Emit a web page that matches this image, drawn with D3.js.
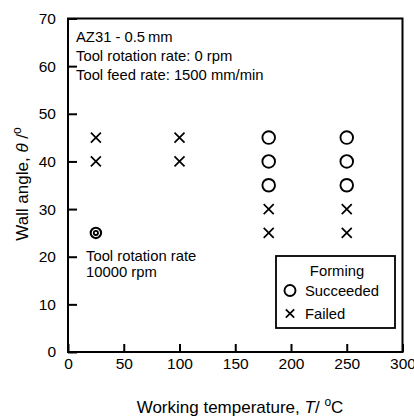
<!DOCTYPE html>
<html><head><meta charset="utf-8">
<script src="https://cdn.jsdelivr.net/npm/d3@7"></script>
<style>body{margin:0;background:#fff}svg{display:block}text{font-family:"Liberation Sans",Arial,sans-serif;fill:#000}</style>
</head><body>
<svg id="c" width="414" height="416"></svg>
<script>
const xTicks = [0, 50, 100, 150, 200, 250, 300];
const yTicks = [0, 10, 20, 30, 40, 50, 60, 70];
const succeededT = [180, 180, 180, 250, 250, 250];
const succeededAngle = [45, 40, 35, 45, 40, 35];
const failedT = [25, 25, 100, 100, 180, 180, 250, 250];
const failedAngle = [45, 40, 45, 40, 30, 25, 30, 25];
const specialT = [25];
const specialAngle = [25];

const svg = d3.select("#c");
const L = 68, R = 402.5, T = 18.5, B = 352;
const x = d3.scaleLinear().domain([0, 300]).range([L, R]);
const y = d3.scaleLinear().domain([0, 70]).range([B, T]);

// axes
const xAxis = d3.axisBottom(x).tickValues(xTicks).tickSizeInner(-8).tickSizeOuter(0).tickPadding(17);
const gx = svg.append("g").attr("transform", `translate(0,${B})`).call(xAxis);
const yAxis = d3.axisLeft(y).tickValues(yTicks).tickSizeInner(-9).tickSizeOuter(0).tickPadding(22);
const gy = svg.append("g").attr("transform", `translate(${L},0)`).call(yAxis);
[gx, gy].forEach(g => {
  g.select(".domain").remove();
  g.selectAll(".tick line").attr("stroke", "#000").attr("stroke-width", 2);
  g.selectAll(".tick text").style("font-size", "15.5px").attr("fill", "#000");
});
gx.selectAll(".tick text").attr("dy", "0.71em").attr("y", 6);
gy.selectAll(".tick text").attr("x", -12);

// frame
svg.append("rect").attr("x", L).attr("y", T).attr("width", R - L).attr("height", B - T)
  .attr("fill", "none").attr("stroke", "#000").attr("stroke-width", 2);

// axis titles
const xt = svg.append("text").attr("x", 240).attr("y", 413).attr("text-anchor", "middle").style("font-size", "17px");
xt.append("tspan").text("Working temperature, ");
xt.append("tspan").attr("font-style", "italic").text("T");
xt.append("tspan").text("/ ");
xt.append("tspan").attr("dy", -7).style("font-size", "12px").text("o");
xt.append("tspan").attr("dy", 7).text("C");

const yt = svg.append("text").attr("transform", "translate(28,184) rotate(-90)").attr("text-anchor", "middle").style("font-size", "17px");
yt.append("tspan").text("Wall angle, ");
yt.append("tspan").attr("font-style", "italic").text("θ");
yt.append("tspan").text(" /");
yt.append("tspan").attr("dy", -7).style("font-size", "12px").text("o");

// annotations
const ann = svg.append("g").style("font-size", "14.8px");
ann.append("text").attr("x", 76).attr("y", 42).text("AZ31 - 0.5\u2009mm");
ann.append("text").attr("x", 76).attr("y", 61).text("Tool rotation rate: 0 rpm");
ann.append("text").attr("x", 76).attr("y", 79.5).text("Tool feed rate: 1500 mm/min");
ann.append("text").attr("x", 86).attr("y", 261).text("Tool rotation rate");
ann.append("text").attr("x", 86).attr("y", 276.5).text("10000 rpm");

// markers
const crossPath = (s) => `M${-s},${-s}L${s},${s}M${-s},${s}L${s},${-s}`;
svg.append("g").selectAll("circle").data(succeededT.map((t, i) => [t, succeededAngle[i]]))
  .join("circle").attr("cx", d => x(d[0])).attr("cy", d => y(d[1])).attr("r", 6.3)
  .attr("fill", "none").attr("stroke", "#000").attr("stroke-width", 1.9);
svg.append("g").selectAll("path").data(failedT.map((t, i) => [t, failedAngle[i]]))
  .join("path").attr("transform", d => `translate(${x(d[0])},${y(d[1])})`).attr("d", crossPath(5))
  .attr("fill", "none").attr("stroke", "#000").attr("stroke-width", 1.7);
const sp = svg.append("g").selectAll("g").data(specialT.map((t, i) => [t, specialAngle[i]]))
  .join("g").attr("transform", d => `translate(${x(d[0])},${y(d[1])})`);
sp.append("circle").attr("r", 5.2).attr("fill", "none").attr("stroke", "#000").attr("stroke-width", 2.1);
sp.append("circle").attr("r", 2.1).attr("fill", "none").attr("stroke", "#000").attr("stroke-width", 1.8);

// legend
const lg = svg.append("g");
lg.append("rect").attr("x", 276).attr("y", 256).attr("width", 119).attr("height", 72)
  .attr("fill", "#fff").attr("stroke", "#000").attr("stroke-width", 1.8);
lg.append("text").attr("x", 337).attr("y", 276).attr("text-anchor", "middle").style("font-size", "14.8px").text("Forming");
lg.append("circle").attr("cx", 290).attr("cy", 290.5).attr("r", 5.5).attr("fill", "none").attr("stroke", "#000").attr("stroke-width", 1.9);
lg.append("text").attr("x", 305).attr("y", 295.5).style("font-size", "14.8px").text("Succeeded");
lg.append("path").attr("transform", "translate(290,313.5)").attr("d", crossPath(4.2)).attr("fill", "none").attr("stroke", "#000").attr("stroke-width", 1.7);
lg.append("text").attr("x", 305).attr("y", 318.5).style("font-size", "14.8px").text("Failed");
</script>
</body></html>
